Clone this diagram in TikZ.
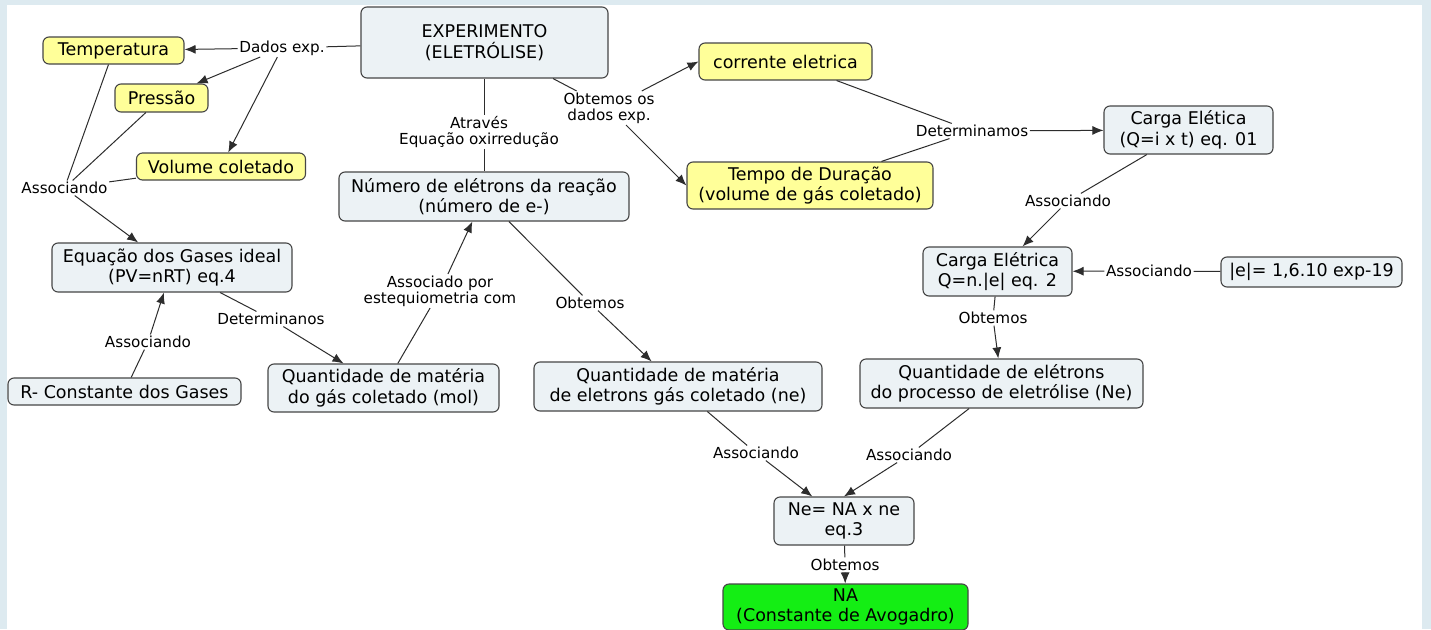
\documentclass[tikz,border=0pt]{standalone}
\usepackage{fontspec}
\setmainfont{DejaVu Sans}
\usetikzlibrary{arrows.meta}
\definecolor{bgblue}{RGB}{221,234,240}
\definecolor{boxfill}{RGB}{236,242,245}
\definecolor{boxline}{RGB}{70,70,70}
\definecolor{yel}{RGB}{255,255,153}
\definecolor{grn}{RGB}{20,238,20}
\definecolor{lnk}{RGB}{45,45,45}
\tikzset{
  concept/.style={draw=boxline, line width=1.1pt, rounded corners=6pt, fill=boxfill,
    align=center, inner sep=2pt, font=\fontsize{17.5}{20.5}\selectfont, text=black},
  yconcept/.style={concept, fill=yel},
  gconcept/.style={concept, fill=grn},
  lbl/.style={align=center, inner sep=1.5pt, font=\fontsize{15.2}{16}\selectfont, text=black},
  link/.style={draw=lnk, line width=1pt},
  arr/.style={link, -{Latex[length=11pt,width=9pt]}}
}
\begin{document}
\begin{tikzpicture}[x=1pt,y=-1pt]
\useasboundingbox (0,0) rectangle (1431,629);
\clip (0,0) rectangle (1431,629);
\fill[bgblue] (0,0) rectangle (1431,629);
\fill[white] (7,5) rectangle (1422,640);

% concepts
\node[concept, minimum width=247pt, minimum height=71pt] (exp) at (484.5,42.5) {EXPERIMENTO\\(ELETRÓLISE)};
\node[yconcept, minimum width=141pt, minimum height=27pt] (temp) at (113.5,50.5) {Temperatura};
\node[yconcept, minimum width=93pt, minimum height=28pt] (pres) at (161.5,98) {Pressão};
\node[yconcept, minimum width=169pt, minimum height=27pt] (vol) at (221,166.5) {Volume coletado};
\node[concept, minimum width=290pt, minimum height=49pt] (num) at (484,196.5) {Número de elétrons da reação\\(número de e-)};
\node[yconcept, minimum width=173pt, minimum height=37pt] (corr) at (785.5,61.5) {corrente eletrica};
\node[yconcept, minimum width=246pt, minimum height=47pt] (tempo) at (810,185.5) {Tempo de Duração\\(volume de gás coletado)};
\node[concept, minimum width=169pt, minimum height=48pt] (carga1) at (1188.5,130) {Carga Elética\\(Q=i x t) eq. 01};
\node[concept, minimum width=149pt, minimum height=49pt] (carga2) at (997.5,271.5) {Carga Elétrica\\Q=n.|e| eq. 2};
\node[concept, minimum width=181pt, minimum height=30pt] (econst) at (1311.5,272) {|e|= 1,6.10 exp-19};
\node[concept, minimum width=283pt, minimum height=49pt] (qNe) at (1001.5,383.5) {Quantidade de elétrons\\do processo de eletrólise (Ne)};
\node[concept, minimum width=288pt, minimum height=49pt] (qne) at (678,386.5) {Quantidade de matéria\\de eletrons gás coletado (ne)};
\node[concept, minimum width=231pt, minimum height=48pt] (qmol) at (383.5,388) {Quantidade de matéria\\do gás coletado (mol)};
\node[concept, minimum width=240pt, minimum height=49pt] (gas) at (172,267.5) {Equação dos Gases ideal\\(PV=nRT) eq.4};
\node[concept, minimum width=233pt, minimum height=27pt] (R) at (124.5,391.5) {R- Constante dos Gases};
\node[concept, minimum width=140pt, minimum height=48pt] (eq3) at (844,521) {Ne= NA x ne\\eq.3};
\node[gconcept, minimum width=245pt, minimum height=46pt] (NA) at (845.5,607) {NA\\(Constante de Avogadro)};

% link labels
\node[lbl] (ldados) at (282,48) {Dados exp.};
\node[lbl] (lassoc1) at (64.5,188) {Associando};
\node[lbl] (latr) at (479,132) {Através\\Equação oxirredução};
\node[lbl] (lobt1) at (609,108) {Obtemos os\\dados exp.};
\node[lbl] (ldet1) at (972,131) {Determinamos};
\node[lbl] (lassoc2) at (1068,201) {Associando};
\node[lbl] (lassoc3) at (1149,271) {Associando};
\node[lbl] (lobt2) at (993,318) {Obtemos};
\node[lbl] (lobt3) at (590,303) {Obtemos};
\node[lbl] (lestq) at (440,291) {Associado por\\estequiometria com};
\node[lbl] (ldet2) at (271,319) {Determinanos};
\node[lbl] (lassoc4) at (148,342) {Associando};
\node[lbl] (lassoc5) at (756,453) {Associando};
\node[lbl] (lassoc6) at (909,455) {Associando};
\node[lbl] (lobt4) at (845,565) {Obtemos};

% links
\draw[link] (exp) -- (ldados);
\draw[arr] (ldados) -- (temp);
\draw[arr] (ldados) -- (pres);
\draw[arr] (ldados) -- (vol);

\draw[link] (temp) -- (lassoc1);
\draw[link] (pres) -- (lassoc1);
\draw[link] (vol) -- (lassoc1);
\draw[arr] (lassoc1) -- (gas);

\draw[link] (exp.south -| num.north) -- (latr.north -| num.north);
\draw[link] (latr.south -| num.north) -- (num.north);

\draw[link] (exp) -- (lobt1);
\draw[arr] (lobt1) -- (corr.west);
\draw[arr] (lobt1) -- (tempo.west);

\draw[link] (corr) -- (ldet1);
\draw[link] (tempo) -- (ldet1);
\draw[arr] (ldet1) -- (carga1);

\draw[link] (carga1) -- (lassoc2);
\draw[arr] (lassoc2) -- (carga2);

\draw[link] (econst) -- (lassoc3);
\draw[arr] (lassoc3) -- (carga2);

\draw[link] (carga2) -- (lobt2);
\draw[arr] (lobt2) -- (qNe);

\draw[link] (num) -- (lobt3);
\draw[arr] (lobt3) -- (qne);

\draw[link] (qmol) -- (lestq);
\draw[arr] (lestq) -- (num);

\draw[link] (gas) -- (ldet2);
\draw[arr] (ldet2) -- (qmol);

\draw[link] (R) -- (lassoc4);
\draw[arr] (lassoc4) -- (gas);

\draw[link] (qne) -- (lassoc5);
\draw[arr] (lassoc5) -- (eq3);

\draw[link] (qNe) -- (lassoc6);
\draw[arr] (lassoc6) -- (eq3.north);

\draw[link] (eq3) -- (lobt4);
\draw[arr] (lobt4) -- (NA);
\end{tikzpicture}
\end{document}
